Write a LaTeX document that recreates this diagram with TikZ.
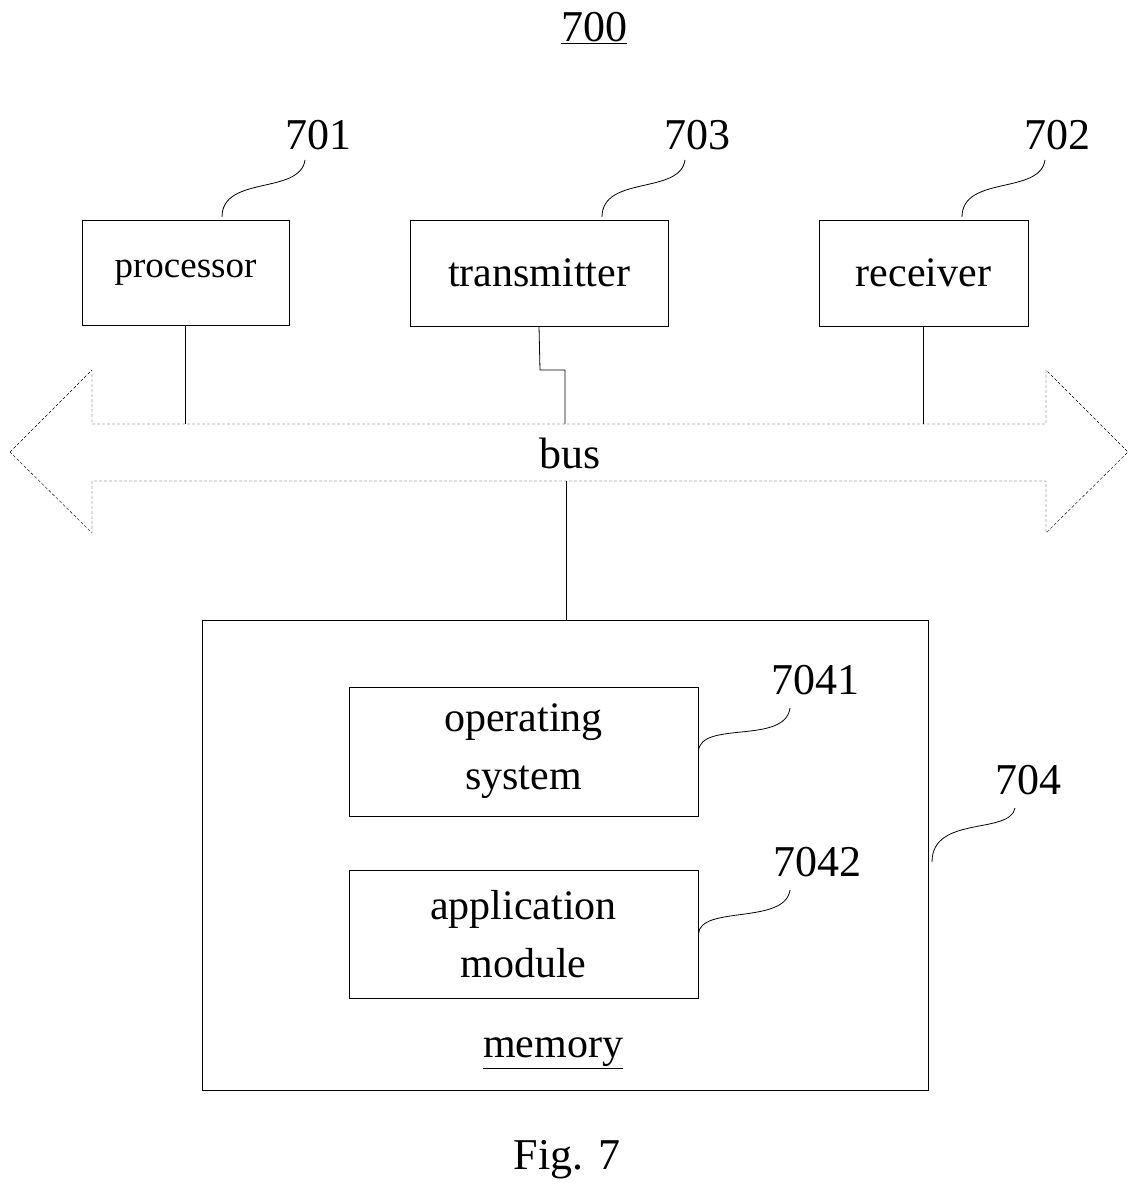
\documentclass[tikz,border=0pt]{standalone}
\usepackage{fontspec}
\setmainfont{Liberation Serif}
\usetikzlibrary{positioning}
\begin{document}
\begin{tikzpicture}[x=1pt,y=-1pt,
  box/.style={draw,thick,inner sep=0pt,align=center,font=\fontsize{42}{58}\selectfont},
  num/.style={font=\fontsize{44}{48}\selectfont},
  lead/.style={thick}]
\useasboundingbox (0,0) rectangle (1137,1196);
% title
\node[num] (title) at (594,28) {\underline{700}};
% top boxes
\node[box,minimum width=207pt,minimum height=105pt,font=\fontsize{37}{40}\selectfont] (proc) at (185.5,272.5) {processor};
\node[box,minimum width=258pt,minimum height=106pt] (trans) at (539,273) {transmitter};
\node[box,minimum width=209pt,minimum height=106pt] (recv) at (923.5,273) {receiver};
% labels and leaders
\node[num] (l701) at (318,135) {701};
\node[num] (l703) at (697,135) {703};
\node[num] (l702) at (1057,135) {702};
\draw[lead] (222,217) .. controls (222,175) and (300,195) .. (305,160);
\draw[lead] (602,217) .. controls (602,175) and (680,195) .. (685,160);
\draw[lead] (962,217) .. controls (962,175) and (1040,195) .. (1045,160);
% bus
\draw[densely dashed] (10,452) -- (92,370) -- (92,424) -- (1046,424) -- (1046,370)
  -- (1128,452) -- (1046,533) -- (1046,481) -- (92,481) -- (92,533) -- cycle;
\node[num] (bus) at (570,453) {bus};
\coordinate (bustop) at (0,424);
\coordinate (busbot) at (566,481);
\draw[thick] (proc.south) -- (proc.south |- bustop);
\draw[thick] (recv.south) -- (recv.south |- bustop);
\draw[thick] (trans.south) -- (540,370) -- (565,370) -- (565,424);
% memory
\node[box,minimum width=726pt,minimum height=470pt] (mem) at (565,855) {};
\draw[thick] (busbot) -- (mem.north -| busbot);
\node[box,minimum width=349pt,minimum height=129pt] (os) at (523.5,751.5) {operating\\system};
\node[box,minimum width=349pt,minimum height=128pt] (app) at (523.5,934) {application\\module};
\node[box,draw=none] (memlbl) at (553,1053) {\underline{memory}};
\node[num] (l7041) at (815,680) {7041};
\node[num] (l7042) at (817,862) {7042};
\node[num] (l704) at (1028,780) {704};
\draw[lead] (os.east) .. controls (700,720) and (785,745) .. (790,708);
\draw[lead] (app.east) .. controls (700,905) and (785,925) .. (790,890);
\draw[lead] (932,862) .. controls (932,815) and (1010,835) .. (1015,808);
% caption
\node[num] (fig) at (567,1160) {Fig. 7};
\end{tikzpicture}
\end{document}
